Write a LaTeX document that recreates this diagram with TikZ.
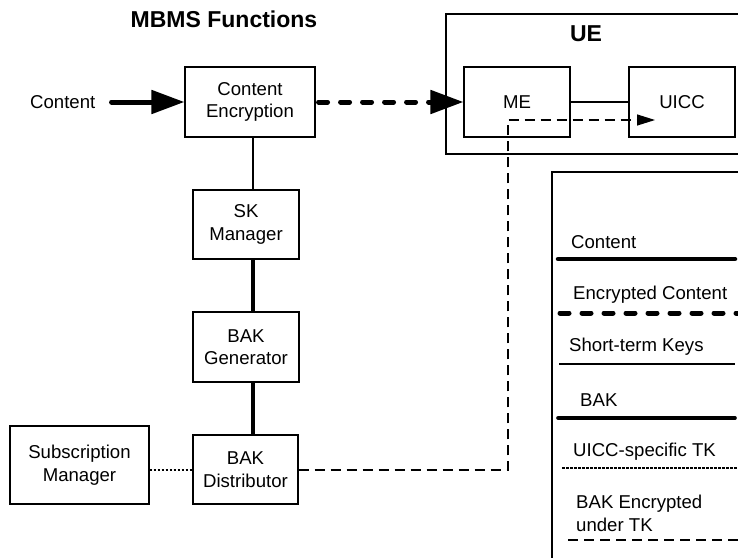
\documentclass[tikz,border=0pt]{standalone}
\usepackage{fontspec}
\setmainfont{Liberation Sans}
\usetikzlibrary{arrows.meta}
\begin{document}
\begin{tikzpicture}[x=1pt,y=-1pt,
  txt/.style={font=\fontsize{18.6}{22.5}\selectfont, align=center, inner sep=0pt},
  ttl/.style={font=\fontsize{23}{27}\selectfont\bfseries, inner sep=0pt},
  box/.style={txt, draw, line width=1.1pt},
  thin/.style={line width=1.1pt},
  thickline/.style={line width=3.6pt},
  contentline/.style={line width=5pt, line cap=round},
  enccontent/.style={line width=5pt, line cap=round, dash pattern=on 9pt off 13pt},
  tkline/.style={line width=1.2pt, dash pattern=on 2.5pt off 1.5pt},
  bakenc/.style={line width=1.2pt, dash pattern=on 10pt off 6pt},
  bigtip/.style={-{Triangle[length=33pt,width=23pt]}},
  smalltip/.style={-{Triangle[length=18pt,width=11pt]}},
  lbl/.style={txt, anchor=west}
]
\useasboundingbox (0,0) rectangle (738,557);
\clip (0,0) rectangle (738,557);
\fill[white] (0,0) rectangle (738,557);

% title
\node[ttl] (title) at (224,19) {MBMS Functions};

% UE box
\node[draw, line width=1.3pt, minimum width=304pt, minimum height=140pt, inner sep=0pt] (ue) at (598,84) {};
\node[ttl] (uelbl) at (586,34) {UE};

% boxes
\node[box, minimum width=130pt, minimum height=70pt] (ce) at (250,102) {Content\\Encryption};
\node[box, minimum width=106pt, minimum height=69pt] (sk) at (246,224.5) {SK\\Manager};
\node[box, minimum width=106pt, minimum height=70pt] (bg) at (246,347) {BAK\\Generator};
\node[box, minimum width=105pt, minimum height=69pt] (bd) at (245.5,469.5) {BAK\\Distributor};
\node[box, minimum width=139pt, minimum height=78pt] (sm) at (79.5,465) {Subscription\\Manager};
\node[box, minimum width=106pt, minimum height=70pt] (me) at (517,102) {ME};
\node[box, minimum width=106pt, minimum height=70pt] (uicc) at (682,102) {UICC};

% content input
\node[lbl] (cin) at (30,102) {Content};
\draw[contentline, bigtip] ([xshift=16pt]cin.east) -- (ce.west);

% encrypted content
\draw[enccontent, bigtip] ([xshift=3pt]ce.east) -- (me.west);

% ME - UICC
\draw[thin] (me.east) -- (uicc.west);

% vertical chain
\coordinate (vx) at (253,0);
\draw[thin] (ce.south -| vx) -- (sk.north -| vx);
\draw[thickline] (sk.south -| vx) -- (bg.north -| vx);
\draw[thickline] (bg.south -| vx) -- (bd.north -| vx);

% subscription manager - BAK distributor
\draw[tkline] (sm.east |- 0,470) -- (bd.west |- 0,470);

% BAK encrypted under TK path
\coordinate (p1) at (508,470);
\coordinate (p2) at (508,120);
\coordinate (p3) at (655,120);
\draw[bakenc, smalltip] (bd.east |- p1) -- (p1) -- (p2) -- (p3);

% legend
\node[draw, line width=1.3pt, minimum width=200pt, minimum height=400pt, inner sep=0pt] (legend) at (652,372) {};
\node[lbl] (l1) at (571,242) {Content};
\draw[line width=4.5pt, line cap=round] (558,259) -- (735,259);
\node[lbl] (l2) at (573,295) {Encrypted Content};
\draw[line width=5pt, line cap=round, dash pattern=on 9pt off 13pt] (560,313) -- (740,313);
\node[lbl] (l3) at (569,347) {Short-term Keys};
\draw[thin] (559,364) -- (735,364);
\node[lbl] (l4) at (580,400) {BAK};
\draw[line width=3.6pt, line cap=round] (558,418) -- (735,418);
\node[lbl] (l5) at (573,452) {UICC-specific TK};
\draw[tkline] (562,468) -- (740,468);
\node[lbl, align=left] (l6) at (576,513.5) {BAK Encrypted\\under TK};
\draw[bakenc] (568,540) -- (740,540);
\end{tikzpicture}
\end{document}
